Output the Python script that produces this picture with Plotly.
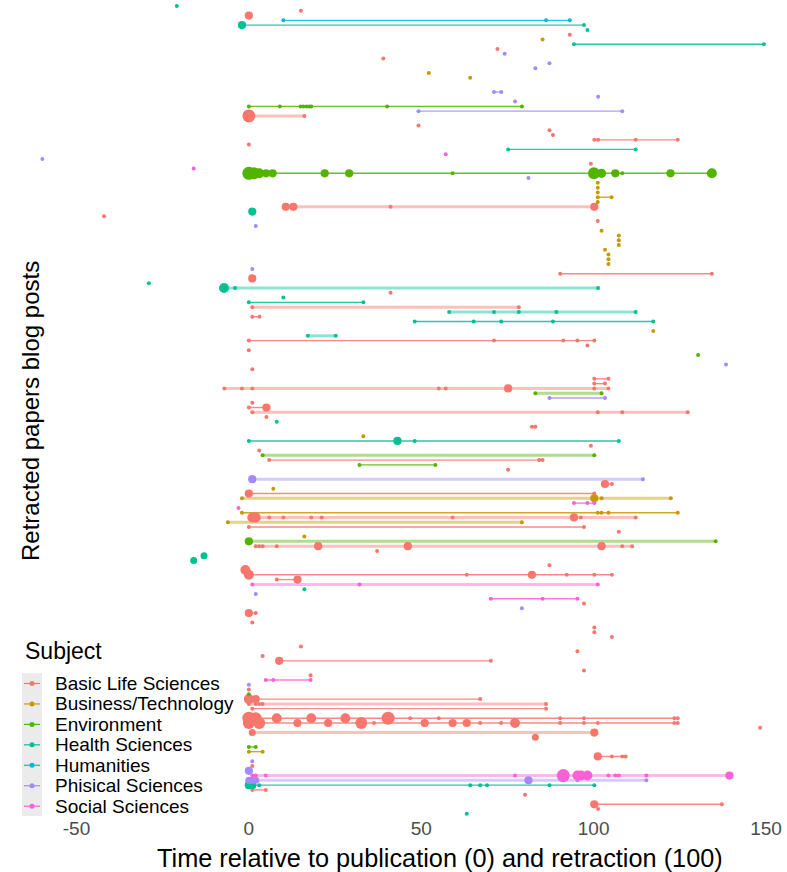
import math
import plotly.graph_objects as go

# ---------------- DATA ----------------
subject_names = ["Basic Life Sciences", "Business/Technology", "Environment",
                 "Health Sciences", "Humanities", "Phisical Sciences", "Social Sciences"]
subject_codes = ["B", "T", "E", "H", "U", "P", "S"]

# one code per paper (row, top to bottom); "." = paper whose posts fall outside the shown range
paper_subject = list(
    "HBBUHHBTHB" "PBPPTT..PP" "PEPB.BBBBB" "HSPBSEPTTT" "TTBHBBPTTT"
    "TTTTTPBBHH" "BHHBHBH.TH" "BBBE.PB.BB" "BEPBBBBHB." "THBBEBEB.P"
    "BTBTSSTBTB" "BTEBBHHBBB" "BSHPSBPB.B" "BBB.BBBB.B" "BSPBEBBB.B"
    "BBBB.ETBPB" "PSPHBB.BBHT"
)

# blog post times per paper (0 = publication, 100 = retraction)
post_time = [
    [-20.9], [15.1], [0], [10.0, 86.2, 93.1], [-2.0, 97.2],
    [98.2], [93.1], [85.2], [94.3, 149.4], [72.1],
    [74.2], [39.0], [87.2], [83.1], [52.2],
    [64.2], [], [], [71.1, 73.2], [101.3],
    [77.2], [0, 9.0, 15.0, 15.8, 16.7, 17.5, 18.1, 40.1, 79.2], [49.2, 108.3], [0, 16.1], [],
    [49.2], [87.2], [88.2], [100.2, 101.3, 112.2, 124.4], [0],
    [75.2, 112.2], [57.1], [-59.9], [99.2], [-16.0],
    [0, 1.5, 3.0, 5.0, 6.9, 22.0, 29.1, 59.1, 100.1, 102.3, 106.3, 108.3, 122.3, 134.3],
    [81.1], [101.2], [101.2], [101.2],
    [101.2, 105.2], [101.2], [10.7, 12.9, 41.1, 100.2], [1.0], [-42.0],
    [101.2], [2.0], [102.3], [107.3], [107.3],
    [107.3], [103.3], [104.3], [104.3], [104.3],
    [1.0], [90.3, 134.3], [1.0], [-29.0], [-7.2, -4.0, 101.3],
    [41.1], [10.0], [0, 33.2], [1.0, 78.3], [58.1, 71.1, 78.3, 89.2, 112.2],
    [1.0, 3.1], [48.1, 65.2, 73.2, 88.2, 117.3], [], [117.3], [17.1, 25.2],
    [0, 71.1, 91.2, 95.3, 100.2], [98.2], [0], [130.3], [],
    [138.4], [1.0], [], [100.2, 104.3], [100.2, 103.3],
    [-7.1, -2.0, 1.0, 55.1, 57.1, 75.2, 100.2, 104.3], [83.1, 102.3], [87.2, 103.3], [1.0], [0, 5.1],
    [1.0, 101.2, 108.3, 127.3], [5.1], [8.1], [82.1, 83.1], [],
    [33.2], [0, 43.1, 48.1, 107.3], [99.2], [3.0], [4.0, 100.2],
    [5.9, 84.2, 85.2], [32.1, 54.1], [75.2], [], [1.0, 114.3],
    [103.3, 105.3], [7.1], [0, 100.2], [-2.0, 100.2, 102.3, 122.4], [94.3, 98.2, 100.2],
    [-3.0], [-2.0, 101.2, 102.3, 104.3, 124.4],
    [1.0, 2.0, 5.9, 10.0, 18.1, 21.1, 59.1, 94.3, 96.3, 112.2], [-6.1, 79.2], [0, 97.2],
    [107.3], [16.1], [0, 135.4], [2.0, 3.0, 4.0, 8.1, 20.1, 46.1, 102.3, 108.3, 111.2], [37.2],
    [-13.0], [-16.0], [87.2], [-1.0], [0, 63.2, 82.1, 92.2, 100.2, 105.3],
    [8.1, 14.1], [1.0, 32.1, 101.2], [16.1], [2.0], [70.2, 85.2, 95.3],
    [97.2], [79.2], [0, 2.0], [], [1.0],
    [100.2], [100.2], [105.3], [], [15.1],
    [95.3], [4.0], [8.8, 70.2], [], [97.2],
    [17.9], [4.9, 7.1, 17.9], [0], [0], [0],
    [0, 2.0, 67.1], [0, 2.0, 3.0, 4.0, 86.2], [1.0, 86.2], [],
    [0, 2.0, 8.1, 18.1, 28.0, 40.4, 46.8, 55.1, 90.3, 97.2, 123.4, 124.4],
    [0, 3.0, 14.1, 23.0, 32.6, 36.3, 51.0, 59.1, 63.2, 67.1, 73.2, 77.2, 90.3, 97.2, 101.2, 123.4, 124.4],
    [148.3], [1.0, 100.2], [83.1], [],
    [0, 2.0], [0, 4.0], [101.2, 105.3, 108.3, 109.3], [1.0], [1.0],
    [0], [1.0, 2.0, 4.9, 77.2, 91.2, 95.3, 96.3, 98.2, 104.3, 106.3, 107.3, 115.3, 139.4],
    [0, 1.0, 2.0, 81.1, 95.3, 115.3], [0, 1.0, 3.0, 64.2, 67.1, 69.1, 87.2, 100.2], [1.0, 4.9],
    [80.1], [], [100.2, 137.2], [101.3], [63.2],
    [9.0, 56.1],
]

# number of posts at each time point
post_count = [
    [1], [1], [3], [1, 1, 1], [3, 1],
    [1], [1], [1], [1, 1], [1],
    [1], [1], [1], [1], [1],
    [1], [], [], [1, 1], [1],
    [1], [1, 1, 1, 1, 1, 1, 1, 1, 1], [1, 1], [10, 1], [],
    [1], [1], [1], [1, 1, 1, 1], [1],
    [1, 1], [1], [1], [1], [1],
    [10, 8, 5, 3, 3, 3, 3, 1, 8, 4, 3, 1, 3, 5],
    [1], [1], [1], [1],
    [1, 1], [1], [3, 3, 1, 3], [3], [1],
    [1], [1], [1], [1], [1],
    [1], [1], [1], [1], [1],
    [1], [1, 1], [3], [1], [5, 1, 1],
    [1], [1], [1, 1], [1, 1], [1, 1, 1, 1, 1],
    [1, 1], [1, 1, 1, 1, 1], [], [1], [1, 1],
    [1, 1, 1, 1, 1], [1], [1], [1], [],
    [1], [1], [], [1, 1], [1, 1],
    [1, 1, 1, 1, 1, 3, 1, 1], [1, 1], [1, 1], [1], [1, 3],
    [1, 1, 1, 1], [1], [1], [1, 1], [],
    [1], [1, 3, 1, 1], [1], [1], [1, 1],
    [1, 1, 1], [1, 1], [1], [], [3, 1],
    [3, 1], [1], [3, 1], [1, 3, 1, 1], [1, 1, 1],
    [1], [1, 1, 1, 1, 1],
    [5, 5, 1, 1, 1, 1, 1, 3, 1, 1], [1, 1], [1, 1],
    [1], [1], [3, 1], [1, 1, 1, 1, 3, 3, 3, 1, 1], [1],
    [2], [2], [1], [5], [5, 1, 3, 1, 1, 1],
    [1, 3], [1, 1, 1], [1], [1], [1, 1, 1],
    [1], [1], [3, 1], [], [1],
    [1], [1], [1], [], [1],
    [1], [1], [3, 1], [], [1],
    [1], [1, 1, 1], [1], [1], [1],
    [5, 3, 1], [1, 1, 1, 1, 1], [1, 1], [],
    [10, 8, 5, 5, 5, 10, 1, 1, 1, 1, 1, 1],
    [8, 8, 3, 3, 8, 1, 3, 3, 3, 1, 1, 5, 1, 1, 1, 1, 1],
    [1], [2, 3], [2], [],
    [1, 1], [1, 1], [3, 1, 1, 1], [1], [1],
    [3], [1, 1, 1, 1, 10, 5, 5, 5, 1, 1, 1, 1, 3],
    [2, 2, 2, 3, 1, 1], [3, 3, 1, 1, 1, 1, 1, 1], [1, 1],
    [1], [], [3, 1], [1], [1],
    [1, 1],
]

x_tick_values = [-50, 0, 50, 100, 150]
x_tick_labels = ["-50", "0", "50", "100", "150"]
x_title = "Time relative to publication (0) and retraction (100)"
y_title = "Retracted papers blog posts"

# ---------------- STYLE / GEOMETRY ----------------
COLORS = {"B": "#F8766D", "T": "#C49A00", "E": "#53B400", "H": "#00C094",
          "U": "#00B6EB", "P": "#A58AFF", "S": "#FB61D7"}
# rows whose segment is drawn as a wide, pale band
LIGHT_ROWS = {23, 42, 59, 63, 64, 69, 80, 81, 85, 94, 99, 103, 107, 108, 112,
              113, 121, 146, 152, 161, 162, 170}
FONT = "Liberation Sans, Arial, sans-serif"

FIG_W, FIG_H = 787, 872
ML, MR, MT, MB = 42, 21, 3, 57
PW = FIG_W - ML - MR
PH = FIG_H - MT - MB
ROW_PX = 4.78                       # pixel spacing of rows
ROW_TOP = -(6 - MT) / ROW_PX        # first row sits 6px from the top
ROW_BOTTOM = ROW_TOP + PH / ROW_PX


def sx(px):   # screen px -> paper x
    return (px - ML) / PW


def sy(py):   # screen px -> paper y
    return 1 - (py - MT) / PH


def rgba(hex_color, a):
    h = hex_color.lstrip("#")
    return "rgba(%d,%d,%d,%.2f)" % (int(h[0:2], 16), int(h[2:4], 16), int(h[4:6], 16), a)


def dot_size(n):
    return 4 + 3 * math.sqrt(n - 1)


n_rows = len(paper_subject)
fig = go.Figure()

seg_thin = {c: ([], []) for c in subject_codes}
seg_thick = {c: ([], []) for c in subject_codes}
pts = {c: ([], [], []) for c in subject_codes}
for r in range(n_rows):
    c = paper_subject[r]
    if c == "." or not post_time[r]:
        continue
    ts = post_time[r]
    if len(ts) >= 2:
        target = seg_thick if r in LIGHT_ROWS else seg_thin
        target[c][0].extend([min(ts), max(ts), None])
        target[c][1].extend([r, r, None])
    for t, n in zip(ts, post_count[r]):
        pts[c][0].append(t)
        pts[c][1].append(r)
        pts[c][2].append(dot_size(n))

for c in subject_codes:
    fig.add_trace(go.Scatter(x=seg_thick[c][0], y=seg_thick[c][1], mode="lines",
                             line=dict(color=rgba(COLORS[c], 0.45), width=3),
                             cliponaxis=False, showlegend=False, hoverinfo="skip"))
for c in subject_codes:
    fig.add_trace(go.Scatter(x=seg_thin[c][0], y=seg_thin[c][1], mode="lines",
                             line=dict(color=rgba(COLORS[c], 0.85), width=1.4),
                             cliponaxis=False, showlegend=False, hoverinfo="skip"))
for c, name in zip(subject_codes, subject_names):
    fig.add_trace(go.Scatter(x=pts[c][0], y=pts[c][1], mode="markers", name=name,
                             marker=dict(color=COLORS[c], size=pts[c][2], opacity=1,
                                         line=dict(width=0)),
                             cliponaxis=False, showlegend=False))

# ---- legend (drawn manually to match ggplot spacing) ----
shapes = [dict(type="rect", xref="paper", yref="paper", x0=sx(22), x1=sx(42),
               y0=sy(816), y1=sy(673), fillcolor="#EBEBEB", line=dict(width=0), layer="below")]
annotations = [dict(text="Subject", x=sx(23), y=sy(651), xref="paper", yref="paper",
                    xanchor="left", yanchor="middle", showarrow=False,
                    font=dict(size=23, family=FONT, color="black"))]
for i, (c, name) in enumerate(zip(subject_codes, subject_names)):
    yc = 683.5 + 20.45 * i
    shapes.append(dict(type="line", xref="paper", yref="paper", x0=sx(24), x1=sx(40),
                       y0=sy(yc), y1=sy(yc), line=dict(color=COLORS[c], width=1.2)))
    shapes.append(dict(type="circle", xref="paper", yref="paper", x0=sx(29.5), x1=sx(34.5),
                       y0=sy(yc + 2.5), y1=sy(yc - 2.5), fillcolor=COLORS[c],
                       line=dict(width=0)))
    annotations.append(dict(text=name, x=sx(53), y=sy(yc), xref="paper", yref="paper",
                            xanchor="left", yanchor="middle", showarrow=False,
                            font=dict(size=19, family=FONT, color="black")))

# axis titles, placed where the reference shows them
annotations.append(dict(text=x_title, x=sx(439.5), y=sy(858), xref="paper", yref="paper",
                        xanchor="center", yanchor="middle", showarrow=False,
                        font=dict(size=25.3, family=FONT, color="black")))
annotations.append(dict(text=y_title, x=sx(30), y=sy(411), xref="paper", yref="paper",
                        xanchor="center", yanchor="middle", showarrow=False, textangle=-90,
                        font=dict(size=24, family=FONT, color="black")))

fig.update_layout(
    width=FIG_W, height=FIG_H,
    margin=dict(l=ML, r=MR, t=MT, b=MB, autoexpand=False),
    paper_bgcolor="white", plot_bgcolor="white",
    font=dict(family=FONT, color="black"),
    showlegend=False,
    shapes=shapes, annotations=annotations,
)
fig.update_xaxes(range=[-60, 150], tickvals=x_tick_values, ticktext=x_tick_labels,
                 showgrid=False, zeroline=False, showline=False, ticks="",
                 tickfont=dict(size=19, color="#4D4D4D"), automargin=False)
fig.update_yaxes(range=[ROW_BOTTOM, ROW_TOP], showticklabels=False, showgrid=False,
                 zeroline=False, showline=False, ticks="", automargin=False)

fig.write_html("out.html", config={"displayModeBar": False},
               post_script="document.body.style.margin='0px';document.body.style.overflow='hidden';")
